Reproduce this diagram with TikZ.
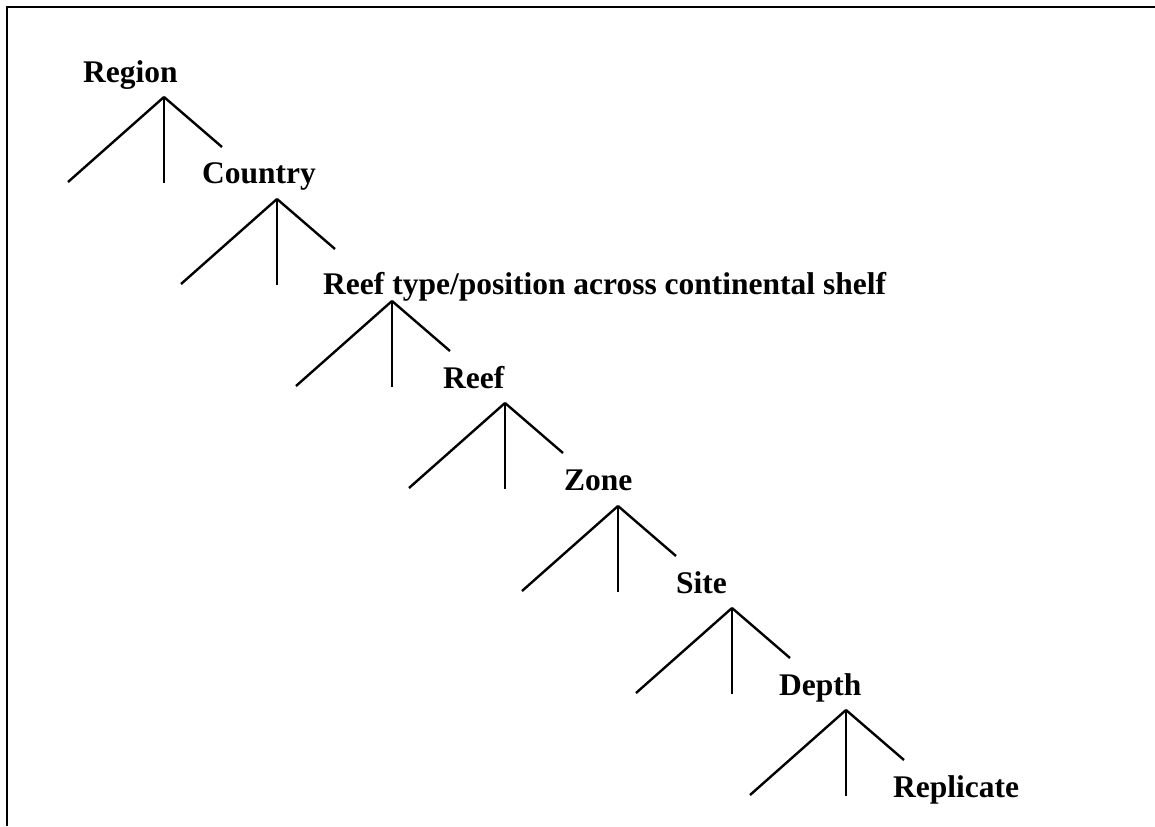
\documentclass[tikz,border=0pt]{standalone}
\usepackage{fontspec}
\setmainfont{Liberation Serif}

\begin{document}
\begin{tikzpicture}[x=0.5pt,y=-0.5pt,line width=1.2pt,level node/.style={anchor=base west,inner sep=0pt,font=\bfseries\fontsize{15.75}{18}\selectfont}]
    \useasboundingbox (0,0) rectangle (1155,826);
    \draw (1155,7) -- (7,7) -- (7,826);

    \node[level node] (region) at (82,82) {Region};
    \node[level node] (country) at (201,183) {Country};
    \node[level node] (reeftype) at (322,294) {Reef type/position across continental shelf};
    \node[level node] (reef) at (442,388) {Reef};
    \node[level node] (zone) at (563,490) {Zone};
    \node[level node] (site) at (675,593) {Site};
    \node[level node] (depth) at (778,695) {Depth};
    \node[level node] (replicate) at (892,797) {Replicate};

    % one fan of three legs below each level
    \foreach \n/\x/\y in {1/164/97,2/277/199,3/392/301,4/505/403,5/618/506,6/732/608,7/846/710}{
        \coordinate (fan\n) at (\x,\y);
        \coordinate (fan\n l) at (\x-96,\y+85);
        \coordinate (fan\n m) at (\x,\y+86);
        \coordinate (fan\n r) at (\x+58,\y+50);
        \path (fan\n) edge (fan\n l) edge (fan\n m) edge (fan\n r);
    }
\end{tikzpicture}
\end{document}
